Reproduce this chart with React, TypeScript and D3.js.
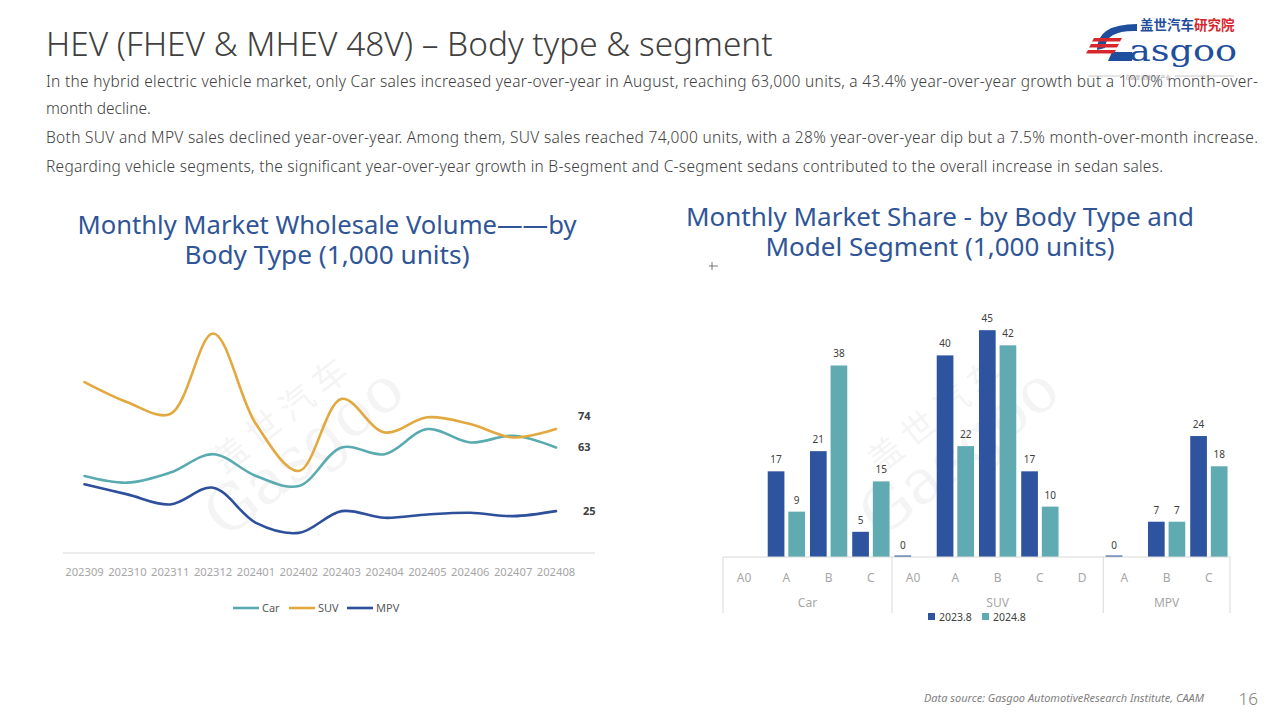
import React from 'react';
import * as d3 from 'd3';

// line chart data (1,000 units)
const months = ['202309','202310','202311','202312','202401','202402','202403','202404','202405','202406','202407','202408'];
const carSales = [46, 42, 48, 59, 46, 40, 63, 59, 74, 66, 70, 63];
const suvSales = [102, 90, 83, 131, 77, 49, 92, 72, 81, 77, 69, 74];
const mpvSales = [41, 35, 29, 39, 18, 12, 25, 21, 23, 24, 22, 25];

// bar chart data (1,000 units)
const bodyTypes = ['Car', 'SUV', 'MPV'];
const carSegments = ['A0', 'A', 'B', 'C'];
const suvSegments = ['A0', 'A', 'B', 'C', 'D'];
const mpvSegments = ['A', 'B', 'C'];
const periods = ['2023.8', '2024.8'];
const sales2023 = [null, 17, 21, 5, 0, 40, 45, 17, null, 0, 7, 24];
const sales2024 = [null, 9, 38, 15, null, 22, 42, 10, null, null, 7, 18];

const TEAL = '#5aabb0';
const GOLD = '#e1a93f';
const NAVY = '#2e4f9b';
const BAR_DARK = '#2e54a0';
const BAR_TEAL = '#5fabb1';
const TITLE_BLUE = '#2f5597';
const FONT = '"Noto Sans", "Open Sans", sans-serif';

const Watermark = ({ x, y }: { x: number; y: number }) => (
  <g transform={`translate(${x},${y}) rotate(-38)`} opacity={0.06} fill="#555">
    <text x={0} y={0} fontSize={62} fontFamily="DejaVu Serif, serif">Gasgoo</text>
    <text x={40} y={-52} fontSize={34} fontFamily='"Noto Sans CJK SC", sans-serif' letterSpacing={8}>盖世汽车</text>
  </g>
);

const Title = ({ cx, y, lines }: { cx: number; y: number; lines: { t: string; w: number }[] }) => (
  <g>
    {lines.map((l, i) => (
      <text key={i} x={cx} y={y + i * 30} textAnchor="middle" fontSize={24.5} fill={TITLE_BLUE} fontFamily={FONT}
        textLength={l.w} lengthAdjust="spacingAndGlyphs">{l.t}</text>
    ))}
  </g>
);

const LineChart = () => {
  const x = d3.scalePoint<string>().domain(months).range([84.5, 556]);
  const y = d3.scaleLinear().domain([0, 140]).range([553, 553 - 140 * 1.675]);
  const line = d3.line<number>()
    .x((_, i) => x(months[i]) as number)
    .y(d => y(d))
    .curve(d3.curveCatmullRom.alpha(0.5));
  const series = [
    { name: 'Car', values: carSales, color: TEAL },
    { name: 'SUV', values: suvSales, color: GOLD },
    { name: 'MPV', values: mpvSales, color: NAVY },
  ];
  const last = months[months.length - 1];
  const legendX = [233, 289, 347];
  return (
    <g>
      <Title cx={327} y={234} lines={[{ t: 'Monthly Market Wholesale Volume——by', w: 499 }, { t: 'Body Type (1,000 units)', w: 285 }]} />
      <Watermark x={225} y={540} />
      <line x1={63} x2={595} y1={553} y2={553} stroke="#d9d9d9" />
      {months.map(m => (
        <text key={m} x={x(m)} y={576} textAnchor="middle" fontSize={11.2} fill="#a6a6a6" fontFamily={FONT}>{m}</text>
      ))}
      {series.map(s => (
        <path key={s.name} d={line(s.values) ?? ''} fill="none" stroke={s.color} strokeWidth={2.6} strokeLinecap="round" />
      ))}
      {series.map(s => {
        const v = s.values[s.values.length - 1];
        const dy = s.name === 'SUV' ? -13 : 0;
        return (
          <text key={s.name} x={(x(last) as number) + (s.name === 'MPV' ? 27 : 22)} y={y(v) + dy + 4} fontSize={11} fontWeight="bold" fill="#404040" fontFamily={FONT}>{v}</text>
        );
      })}
      {series.map((s, i) => (
        <g key={s.name}>
          <line x1={legendX[i]} x2={legendX[i] + 26} y1={608} y2={608} stroke={s.color} strokeWidth={2.6} />
          <text x={legendX[i] + 29} y={612} fontSize={11} fill="#595959" fontFamily={FONT}>{s.name}</text>
        </g>
      ))}
    </g>
  );
};

const BarChart = () => {
  const groups = [carSegments, suvSegments, mpvSegments];
  const cats = groups.flatMap((segs, gi) => segs.map(s => `${bodyTypes[gi]}-${s}`));
  const x = d3.scaleBand<string>().domain(cats).range([723, 1230]);
  const inner = d3.scaleBand<string>().domain(periods).range([0, x.bandwidth()]).paddingInner(0.19).paddingOuter(0.12);
  const y = d3.scaleLinear().domain([0, 45]).range([557, 557 - 45 * 5.04]);
  const seriesVals = [sales2023, sales2024];
  const colors = [BAR_DARK, BAR_TEAL];
  let start = 0;
  const groupBounds = groups.map(segs => {
    const b = { from: start, to: start + segs.length };
    start += segs.length;
    return b;
  });
  const edge = (i: number) => (i < cats.length ? (x(cats[i]) as number) : 1230);
  return (
    <g>
      <Title cx={940} y={226} lines={[{ t: 'Monthly Market Share - by Body Type and', w: 508 }, { t: 'Model Segment (1,000 units)', w: 349 }]} />
      <g stroke="#555" strokeWidth={0.8}>
        <line x1={709} x2={718} y1={266} y2={266} />
        <line x1={712} x2={712} y1={262} y2={270} />
      </g>
      <Watermark x={880} y={540} />
      {seriesVals.map((vals, si) => vals.map((v, ci) => {
        if (v === null) return null;
        const bx = (x(cats[ci]) as number) + (inner(periods[si]) as number);
        const h = Math.max(y(0) - y(v), 1.5);
        return (
          <g key={`${si}-${ci}`}>
            <rect x={bx} y={y(0) - h} width={inner.bandwidth()} height={h} fill={colors[si]} />
            <text x={bx + inner.bandwidth() / 2} y={y(v) - 8} textAnchor="middle" fontSize={10} fill="#404040" fontFamily={FONT}>{v}</text>
          </g>
        );
      }))}
      <line x1={723} x2={1230} y1={557} y2={557} stroke="#d9d9d9" />
      {groupBounds.map((b, gi) => (
        <line key={`sep${gi}`} x1={edge(b.from)} x2={edge(b.from)} y1={557} y2={613} stroke="#d9d9d9" />
      ))}
      <line x1={1230} x2={1230} y1={557} y2={613} stroke="#d9d9d9" />
      {cats.map(c => (
        <text key={c} x={(x(c) as number) + x.bandwidth() / 2} y={582} textAnchor="middle" fontSize={12} fill="#a6a6a6" fontFamily={FONT}>{c.split('-')[1]}</text>
      ))}
      {groupBounds.map((b, gi) => (
        <text key={`g${gi}`} x={(edge(b.from) + edge(b.to)) / 2} y={607} textAnchor="middle" fontSize={12} fill="#a6a6a6" fontFamily={FONT}>{bodyTypes[gi]}</text>
      ))}
      {periods.map((p, i) => (
        <g key={p}>
          <rect x={928 + i * 54} y={613} width={7} height={7} fill={colors[i]} />
          <text x={939 + i * 54} y={621} fontSize={10.5} fill="#404040" fontFamily={FONT}>{p}</text>
        </g>
      ))}
    </g>
  );
};

const Logo = () => (
  <g>
    {/* the "G" made of a blue arc and red stripes */}
    <path d="M1097 50 Q1097 24 1137 24 L1137 31 Q1106 30 1105 48 Z" fill="#1f4e9c" />
    <path d="M1112 52 L1132 52 L1132 61 L1108 61 Z" fill="#1f4e9c" />
    <g fill="#d7262c">
      <polygon points="1094,38 1122,38 1120,41.5 1092,41.5" />
      <polygon points="1091,44 1119,44 1117,47.5 1089,47.5" />
      <polygon points="1088,50 1116,50 1114,53.5 1086,53.5" />
    </g>
    <text x={1140} y={30} fontSize={13.5} fontWeight="bold" fill="#1f4e9c" fontFamily='"Noto Sans CJK SC", sans-serif'>盖世汽车</text>
    <text x={1194} y={30} fontSize={13.5} fontWeight="bold" fill="#d7262c" fontFamily='"Noto Sans CJK SC", sans-serif'>研究院</text>
    <text x={1129} y={61} fontSize={29} fill="#1f4e9c" fontFamily="DejaVu Serif, serif" textLength={108} lengthAdjust="spacingAndGlyphs">asgoo</text>
    <line x1={1088} x2={1121} y1={76} y2={76} stroke="#aaa" strokeWidth={0.6} />
    <line x1={1175} x2={1234} y1={76} y2={76} stroke="#aaa" strokeWidth={0.6} />
    <text x={1148} y={78.5} textAnchor="middle" fontSize={5} fill="#999" fontFamily='"Noto Sans CJK SC", sans-serif'>在这里读懂汽车产业</text>
  </g>
);

export default function App() {
  const para = [
    { t: 'In the hybrid electric vehicle market, only Car sales increased year-over-year in August, reaching 63,000 units, a 43.4% year-over-year growth but a 10.0% month-over-', y: 87, w: 1212 },
    { t: 'month decline.', y: 114, w: 0 },
    { t: 'Both SUV and MPV sales declined year-over-year. Among them, SUV sales reached 74,000 units, with a 28% year-over-year dip but a 7.5% month-over-month increase.', y: 143, w: 1212 },
    { t: 'Regarding vehicle segments, the significant year-over-year growth in B-segment and C-segment sedans contributed to the overall increase in sedan sales.', y: 172, w: 1117 },
  ];
  return (
    <svg width={1280} height={720} style={{ position: 'absolute', left: 0, top: 0, background: '#fff' }}>
      <rect width={1280} height={720} fill="#fff" />
      <text x={46} y={56} fontSize={33.4} fill="#404040" fontFamily={FONT} fontWeight={300}>HEV (FHEV &amp; MHEV 48V) – Body type &amp; segment</text>
      {para.map(p => (
        <text key={p.y} x={46} y={p.y} fontSize={15.5} fill="#404040" fontFamily={FONT} fontWeight={300}
          {...(p.w ? { textLength: p.w, lengthAdjust: 'spacing' } : {})}>{p.t}</text>
      ))}
      <Logo />
      <LineChart />
      <BarChart />
      <text x={1204} y={702} textAnchor="end" fontSize={11} fontStyle="italic" fill="#7f7f7f" fontFamily={FONT}>Data source: Gasgoo AutomotiveResearch Institute, CAAM</text>
      <text x={1258} y={705} textAnchor="end" fontSize={17} fill="#7f7f7f" fontFamily={FONT} fontWeight={300}>16</text>
    </svg>
  );
}
